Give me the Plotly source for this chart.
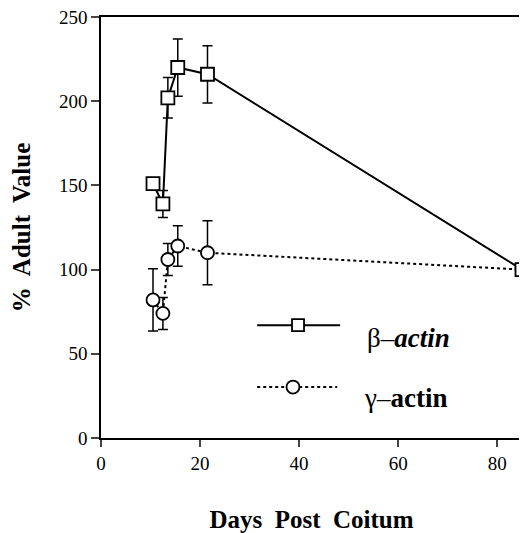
import plotly.graph_objects as go

days = [10.5, 12.5, 13.5, 15.5, 21.5, 85]
beta_vals = [151, 139, 202, 220, 216, 100]
beta_err = [0, 8, 12, 17, 17, 0]
gamma_vals = [82, 74, 106, 114, 110, 100]
gamma_err = [18.5, 9.5, 9.5, 12, 19, 0]

x_ticks = [0, 20, 40, 60, 80]
y_ticks = [0, 50, 100, 150, 200, 250]

FONT = "Liberation Serif"

fig = go.Figure()

fig.add_trace(go.Scatter(
    x=days, y=gamma_vals, mode="lines+markers", name="γ-actin",
    line=dict(color="black", width=2, dash="dot"),
    marker=dict(symbol="circle", size=13, color="white", line=dict(color="black", width=1.8)),
    error_y=dict(type="data", array=gamma_err, visible=True, color="black", thickness=1.5, width=5),
    cliponaxis=False,
))
fig.add_trace(go.Scatter(
    x=days, y=beta_vals, mode="lines+markers", name="β-actin",
    line=dict(color="black", width=2),
    marker=dict(symbol="square", size=13, color="white", line=dict(color="black", width=1.8)),
    error_y=dict(type="data", array=beta_err, visible=True, color="black", thickness=1.5, width=5),
    cliponaxis=False,
))

# custom legend (paper coordinates)
shapes = [
    dict(type="line", xref="paper", yref="paper", x0=0.371, x1=0.568, y0=0.268, y1=0.268,
         line=dict(color="black", width=2)),
    dict(type="rect", xref="paper", yref="paper", xsizemode="pixel", ysizemode="pixel",
         xanchor=0.468, yanchor=0.268, x0=-6, x1=6, y0=-6, y1=6,
         fillcolor="white", line=dict(color="black", width=1.8)),
    dict(type="line", xref="paper", yref="paper", x0=0.371, x1=0.561, y0=0.121, y1=0.121,
         line=dict(color="black", width=2, dash="dot")),
    dict(type="circle", xref="paper", yref="paper", xsizemode="pixel", ysizemode="pixel",
         xanchor=0.456, yanchor=0.121, x0=-6.5, x1=6.5, y0=-6.5, y1=6.5,
         fillcolor="white", line=dict(color="black", width=1.8)),
]
annotations = [
    dict(text="β–<b><i>actin</i></b>", xref="paper", yref="paper", x=0.627, y=0.2375,
         xanchor="left", yanchor="middle", showarrow=False,
         font=dict(family=FONT, size=27, color="black")),
    dict(text="γ–<b>actin</b>", xref="paper", yref="paper", x=0.620, y=0.095,
         xanchor="left", yanchor="middle", showarrow=False,
         font=dict(family=FONT, size=27, color="black")),
]

# page body has an 8px default margin; size and margins compensate for it
fig.update_layout(
    width=519, height=525,
    margin=dict(l=93, r=5, t=9, b=95),
    plot_bgcolor="white", paper_bgcolor="white",
    showlegend=False,
    shapes=shapes, annotations=annotations,
    font=dict(family=FONT, color="black"),
)
fig.update_xaxes(
    range=[0, 85], tickvals=x_ticks, ticks="outside", ticklen=7, tickwidth=1.5,
    showline=True, linecolor="black", linewidth=1.5, mirror=True, showgrid=False, zeroline=False,
    automargin=False, ticklabeloverflow="allow",
    tickfont=dict(family=FONT, size=19, color="black"),
    title=dict(text="<b>Days  Post  Coitum</b>", font=dict(family=FONT, size=25, color="black"), standoff=40),
)
fig.update_yaxes(
    range=[0, 250], tickvals=y_ticks, ticks="outside", ticklen=8, tickwidth=1.5,
    showline=True, linecolor="black", linewidth=1.5, mirror=True, showgrid=False, zeroline=False,
    automargin=False, ticklabeloverflow="allow",
    tickfont=dict(family=FONT, size=19, color="black"),
    title=dict(text="<b>%  Adult  Value</b>", font=dict(family=FONT, size=25, color="black"), standoff=24),
)

fig.write_html("out.html")
